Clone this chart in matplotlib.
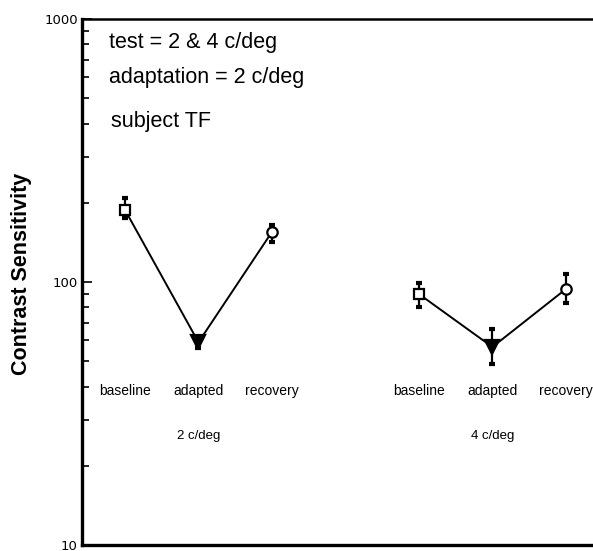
import matplotlib
matplotlib.use("Agg")
import matplotlib.pyplot as plt
from matplotlib.ticker import LogLocator, NullFormatter, FixedLocator, FixedFormatter
import matplotlib.transforms as mtransforms

# Contrast sensitivity by condition, for each test spatial frequency
conditions = ["baseline", "adapted", "recovery"]
groups = ["2 c/deg", "4 c/deg"]
sens_2cpd = [188, 59, 155]
err_lo_2cpd = [13, 3, 13]
err_hi_2cpd = [21, 3, 10]
sens_4cpd = [90, 56.6, 94]
err_lo_4cpd = [9.5, 7.7, 11]
err_hi_4cpd = [9.2, 9.6, 13.4]
ytick_values = [10, 100, 1000]
ytick_labels = ["10", "100", "1000"]

plt.rcParams["font.family"] = ["Liberation Sans", "DejaVu Sans"]

fig = plt.figure(figsize=(5.93, 5.51), dpi=100)
ax = fig.add_axes([0.1383, 0.0109, 0.8617 + 0.01, 0.9546])

markers = ["s", "v", "o"]
faces = ["white", "black", "white"]

series = [
    (sens_2cpd, err_lo_2cpd, err_hi_2cpd),
    (sens_4cpd, err_lo_4cpd, err_hi_4cpd),
]

for g, (vals, lo, hi) in enumerate(series):
    xs = [g * 4 + i + 1 for i in range(len(conditions))]
    ax.plot(xs, vals, color="black", lw=1.4, zorder=2)
    for i, x in enumerate(xs):
        ax.errorbar(x, vals[i], yerr=[[lo[i]], [hi[i]]], fmt="none",
                    ecolor="black", elinewidth=1.6, capsize=2.2, capthick=3,
                    zorder=3)
        ax.plot(x, vals[i], marker=markers[i], ms=7.5 if i != 1 else 10,
                mfc=faces[i], mec="black", mew=1.6, ls="none", zorder=4)
    trans = mtransforms.blended_transform_factory(ax.transData, ax.transAxes)
    for i, x in enumerate(xs):
        ax.text(x, 0.293, conditions[i], transform=trans, ha="center",
                va="center", fontsize=10)
    ax.text(xs[1], 0.207, groups[g], transform=trans, ha="center",
            va="center", fontsize=9.5)

ax.set_yscale("log")
ax.set_ylim(10, 1000)
ax.set_xlim(0.415, 7.45)
ax.yaxis.set_major_locator(FixedLocator(ytick_values))
ax.yaxis.set_major_formatter(FixedFormatter(ytick_labels))
ax.yaxis.set_minor_locator(LogLocator(base=10, subs=range(2, 10)))
ax.yaxis.set_minor_formatter(NullFormatter())
ax.tick_params(axis="y", which="major", direction="in", length=7, width=1.2,
               labelsize=9.5, pad=3)
ax.tick_params(axis="y", which="minor", direction="in", length=5, width=1.2)
for lbl in ax.get_yticklabels():
    lbl.set_fontfamily(["DejaVu Sans"])
ax.set_xticks([])

for side in ["left", "bottom"]:
    ax.spines[side].set_linewidth(2.4)
ax.spines["top"].set_linewidth(1.8)
ax.spines["right"].set_visible(False)

ax.set_ylabel("Contrast Sensitivity", fontsize=15.5, fontweight="bold",
              va="center")
ax.yaxis.set_label_coords(-0.118, 0.515)

ax.text(0.053, 0.955, "test = 2 & 4 c/deg", transform=ax.transAxes,
        fontsize=15.5, va="center", ha="left")
ax.text(0.053, 0.888, "adaptation = 2 c/deg", transform=ax.transAxes,
        fontsize=15.5, va="center", ha="left")
ax.text(0.057, 0.806, "subject TF", transform=ax.transAxes,
        fontsize=15.5, va="center", ha="left")

fig.savefig("out.png", dpi=100)
